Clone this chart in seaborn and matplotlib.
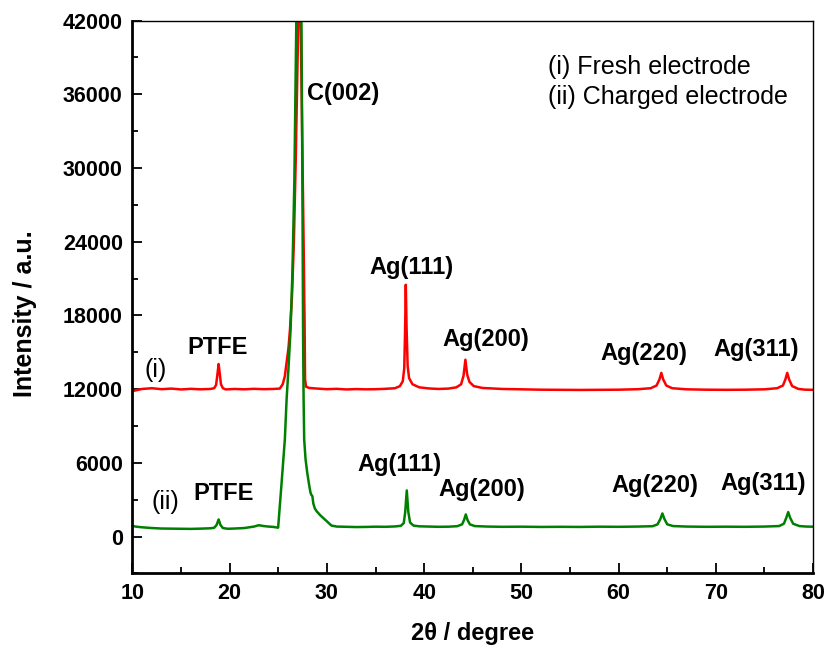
import matplotlib
matplotlib.use("Agg")
import matplotlib.pyplot as plt
from matplotlib.ticker import MultipleLocator
import pandas as pd
import seaborn as sns

# XRD pattern (i): fresh electrode
fresh_2theta = [10.0, 11.0, 12.0, 13.0, 14.0, 15.0, 16.0, 17.0, 18.0, 18.4, 18.6, 18.75,
                18.86, 18.97, 19.1, 19.3, 19.6, 20.5, 21.5, 22.5, 23.5, 24.5, 25.15, 25.45,
                25.67, 25.85, 26.05, 26.2, 26.4, 26.6, 26.8, 26.95, 27.08, 27.18, 27.3, 27.45,
                27.6, 27.7, 27.75, 27.85, 28.2, 29.0, 30.0, 31.0, 32.0, 33.0, 34.0, 35.0,
                36.0, 37.0, 37.5, 37.8, 37.95, 38.03, 38.11, 38.19, 38.3, 38.45, 38.8, 39.5,
                40.5, 41.5, 42.5, 43.3, 43.8, 44.05, 44.24, 44.42, 44.65, 45.1, 46.0, 48.0,
                50.0, 52.0, 54.0, 56.0, 58.0, 60.0, 62.0, 63.3, 63.9, 64.2, 64.39, 64.58,
                64.9, 65.5, 67.0, 69.0, 71.0, 73.0, 75.0, 76.3, 76.9, 77.15, 77.34, 77.53,
                77.85, 78.5, 79.2, 80.0]
fresh_intensity = [11850, 12020, 12080, 12000, 12050, 11980, 12030, 11990, 12020, 12080, 12350, 13300,
                   14050, 13300, 12400, 12080, 11980, 12020, 11990, 12030, 12000, 12020, 12050, 12400,
                   13060, 14170, 15400, 16870, 19500, 24000, 31000, 37500, 43000, 55000, 42000, 33000,
                   24000, 17500, 12800, 12200, 12100, 12050, 12000, 12030, 11980, 12010, 11990, 12000,
                   12030, 12080, 12250, 12650, 13700, 16500, 20500, 17000, 13900, 12900, 12400, 12150,
                   12060, 12020, 12050, 12150, 12400, 13100, 14400, 13200, 12600, 12250, 12100, 12020,
                   11990, 11960, 11950, 11940, 11950, 11960, 12000, 12080, 12300, 12800, 13330, 12800,
                   12300, 12080, 11990, 11960, 11950, 11960, 11990, 12080, 12300, 12800, 13330, 12800,
                   12250, 12020, 11960, 11950]

# XRD pattern (ii): charged electrode
charged_2theta = [10.0, 10.5, 11.0, 12.0, 13.0, 14.0, 15.0, 16.0, 17.0, 18.0, 18.4, 18.65,
                  18.86, 19.05, 19.3, 19.8, 20.5, 21.5, 22.5, 23.0, 23.5, 24.0, 24.5, 24.98,
                  25.3, 25.67, 25.85, 26.05, 26.26, 26.45, 26.65, 26.85, 27.05, 27.25, 27.38, 27.48,
                  27.55, 27.6, 27.66, 27.8, 27.97, 28.15, 28.31, 28.4, 28.5, 28.6, 28.75, 28.93,
                  29.3, 29.78, 30.47, 31.0, 32.0, 33.0, 34.0, 35.0, 36.0, 37.0, 37.6, 37.9,
                  38.05, 38.21, 38.37, 38.55, 38.9, 39.5, 40.5, 41.5, 42.5, 43.4, 43.9, 44.1,
                  44.28, 44.46, 44.7, 45.2, 46.5, 48.0, 50.0, 52.0, 54.0, 56.0, 58.0, 60.0,
                  62.0, 63.5, 64.0, 64.3, 64.5, 64.7, 65.0, 65.6, 67.0, 69.0, 71.0, 73.0,
                  75.0, 76.5, 77.0, 77.25, 77.44, 77.63, 77.95, 78.6, 79.3, 80.0]
charged_intensity = [860, 800, 760, 700, 660, 650, 640, 630, 650, 680, 720, 950,
                     1400, 950, 700, 640, 660, 700, 820, 930, 860, 820, 790, 730,
                     4000, 7900, 11160, 13800, 16870, 21500, 29000, 42000, 58000, 48000, 42000, 28000,
                     16000, 11160, 7900, 6300, 5220, 4300, 3580, 3400, 3300, 2700, 2300, 2080,
                     1750, 1400, 900, 820, 800, 780, 790, 810, 800, 830, 880, 1100,
                     2000, 3760, 2000, 1150, 900, 840, 820, 800, 810, 850, 1000, 1350,
                     1810, 1350, 1000, 860, 820, 800, 810, 790, 800, 790, 810, 800,
                     820, 850, 1000, 1450, 1890, 1450, 1000, 860, 820, 800, 810, 800,
                     820, 860, 1050, 1550, 2000, 1550, 1050, 860, 820, 810]

# Peak labels: text with its 2theta / intensity anchor, for each pattern
fresh_labels = ["PTFE", "C(002)", "Ag(111)", "Ag(200)", "Ag(220)", "Ag(311)"]
fresh_label_x = [18.74, 31.66, 38.65, 46.3, 62.6, 74.15]
fresh_label_y = [15390, 36030, 21900, 16050, 14900, 15230]

charged_labels = ["PTFE", "Ag(111)", "Ag(200)", "Ag(220)", "Ag(311)"]
charged_label_x = [19.4, 37.5, 45.9, 63.7, 74.85]
charged_label_y = [3520, 5880, 3840, 4170, 4330]

legend_lines = ["(i) Fresh electrode", "(ii) Charged electrode"]

sns.set_style("ticks")
plt.rcParams["font.family"] = ["Liberation Sans", "DejaVu Sans"]
plt.rcParams.update({
    "text.color": "black",
    "axes.labelcolor": "black",
    "axes.edgecolor": "black",
    "xtick.color": "black",
    "ytick.color": "black",
})

fig = plt.figure(figsize=(8.28, 6.52), dpi=100)
ax = fig.add_axes([0.160, 0.1204, 0.822, 0.848])

fresh = pd.DataFrame({"two_theta": fresh_2theta, "intensity": fresh_intensity})
charged = pd.DataFrame({"two_theta": charged_2theta, "intensity": charged_intensity})

sns.lineplot(data=fresh, x="two_theta", y="intensity", ax=ax, color="#ff0000",
             linewidth=1.8, estimator=None, sort=False)
sns.lineplot(data=charged, x="two_theta", y="intensity", ax=ax, color="#008000",
             linewidth=1.8, estimator=None, sort=False)

ax.set_xlim(10, 80)
ax.set_ylim(-3000, 42000)
ax.xaxis.set_major_locator(MultipleLocator(10))
ax.xaxis.set_minor_locator(MultipleLocator(5))
ax.yaxis.set_major_locator(MultipleLocator(6000))
ax.yaxis.set_minor_locator(MultipleLocator(3000))

ax.tick_params(which="both", direction="in", top=False, right=False, width=1.3,
               color="black", labelcolor="black")
ax.tick_params(which="major", length=7.5, labelsize=15.5, pad=7)
ax.tick_params(which="minor", length=4)
for lab in ax.get_xticklabels() + ax.get_yticklabels():
    lab.set_fontweight("bold")

for side in ("left", "bottom"):
    ax.spines[side].set_linewidth(2.0)
for side in ("top", "right"):
    ax.spines[side].set_linewidth(1.0)
    ax.spines[side].set_visible(True)
for sp in ax.spines.values():
    sp.set_color("black")

ax.set_xlabel("2θ / degree", fontsize=17, fontweight="bold", color="black")
ax.set_ylabel("Intensity / a.u.", fontsize=18, fontweight="bold", color="black")
ax.xaxis.set_label_coords(0.5, -0.088)
ax.yaxis.set_label_coords(-0.140, 0.47)

for t, x, y in zip(fresh_labels, fresh_label_x, fresh_label_y):
    ax.text(x, y, t, fontsize=17, fontweight="bold", ha="center", va="center", color="black")
for t, x, y in zip(charged_labels, charged_label_x, charged_label_y):
    ax.text(x, y, t, fontsize=17, fontweight="bold", ha="center", va="center", color="black")

ax.text(12.42, 13530, "(i)", fontsize=18, ha="center", va="center", color="black")
ax.text(13.34, 2830, "(ii)", fontsize=18, ha="center", va="center", color="black")

ax.text(52.7, 38250, legend_lines[0], fontsize=18, ha="left", va="center", color="black")
ax.text(52.7, 35750, legend_lines[1], fontsize=18, ha="left", va="center", color="black")

fig.savefig("out.png", dpi=100)
